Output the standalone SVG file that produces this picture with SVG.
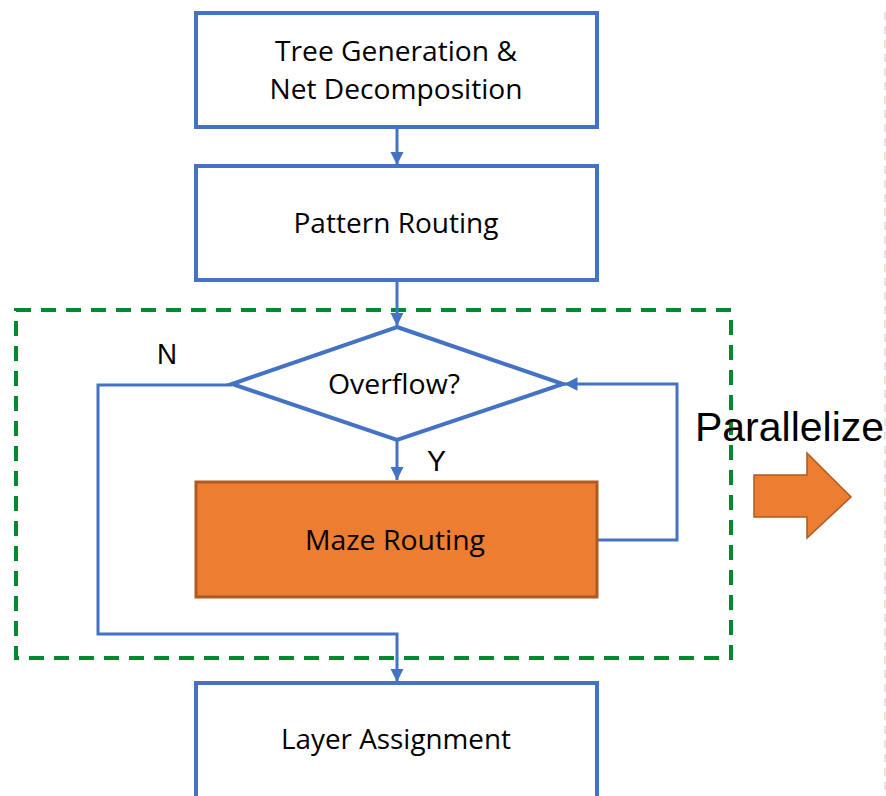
<svg xmlns="http://www.w3.org/2000/svg" width="886" height="796" viewBox="0 0 886 796">
<defs>
<style>
.box{fill:#fff;stroke:#4472C4;stroke-width:4}
.maze{fill:#ED7D31;stroke:#AE5A21;stroke-width:3}
.t{font-family:"Open Sans","Liberation Sans",sans-serif;font-size:27px;fill:#000;text-anchor:middle}
.lab{font-family:"Liberation Sans",Arial,sans-serif;fill:#000}
.conn{fill:none;stroke:#4472C4;stroke-width:3}
</style>
<marker id="ah" viewBox="0 0 10 10" refX="10" refY="5" markerWidth="4.5" markerHeight="4.5" orient="auto" markerUnits="strokeWidth">
<path d="M0,0 L10,5 L0,10 Z" fill="#4472C4"/>
</marker>
</defs>
<rect width="886" height="796" fill="#fff"/>
<line x1="885" y1="12" x2="885" y2="796" stroke="#F2D9C6" stroke-width="1.5" stroke-dasharray="8,6"/>
<rect x="16" y="310" width="715" height="348" fill="none" stroke="#008A2E" stroke-width="4" stroke-dasharray="15,10"/>
<g id="connectors">
<line class="conn" x1="397" y1="127" x2="397" y2="165" marker-end="url(#ah)"/>
<line class="conn" x1="397" y1="280" x2="397" y2="326" marker-end="url(#ah)"/>
<line class="conn" x1="397" y1="440" x2="397" y2="480" marker-end="url(#ah)"/>
<polyline class="conn" points="597,540 677,540 677,384 564,384" marker-end="url(#ah)"/>
<polyline class="conn" points="232,385 98,385 98,634 397,634 397,682" marker-end="url(#ah)"/>
</g>
<g id="tree">
<rect class="box" x="196" y="13" width="401" height="114"/>
<text class="t" x="396" y="61" textLength="242" lengthAdjust="spacingAndGlyphs">Tree Generation &amp;</text>
<text class="t" x="396" y="99" textLength="253" lengthAdjust="spacingAndGlyphs">Net Decomposition</text>
</g>
<g id="pattern">
<rect class="box" x="196" y="166" width="401" height="114"/>
<text class="t" x="396" y="233" textLength="205" lengthAdjust="spacingAndGlyphs">Pattern Routing</text>
</g>
<g id="overflow">
<polygon class="box" points="397,327 563,384 397,440 232,384"/>
<text class="t" x="394" y="394" textLength="132" lengthAdjust="spacingAndGlyphs">Overflow?</text>
</g>
<g id="maze">
<rect class="maze" x="196" y="482" width="401" height="115"/>
<text class="t" x="395" y="550" textLength="180" lengthAdjust="spacingAndGlyphs">Maze Routing</text>
</g>
<g id="layer">
<rect class="box" x="196" y="683" width="401" height="118"/>
<text class="t" x="396" y="749" textLength="230" lengthAdjust="spacingAndGlyphs">Layer Assignment</text>
</g>
<text class="lab" x="157" y="364" font-size="29" textLength="20" lengthAdjust="spacingAndGlyphs">N</text>
<text class="lab" x="427" y="471" font-size="29" textLength="19" lengthAdjust="spacingAndGlyphs">Y</text>
<g id="parallelize">
<text class="lab" x="695" y="441" font-size="40" textLength="189" lengthAdjust="spacingAndGlyphs">Parallelize</text>
<polygon points="754,475 807,475 807,453 851,497 807,538 807,517 754,517" fill="#ED7D31" stroke="#AE5A21" stroke-width="1.5"/>
</g>
</svg>
